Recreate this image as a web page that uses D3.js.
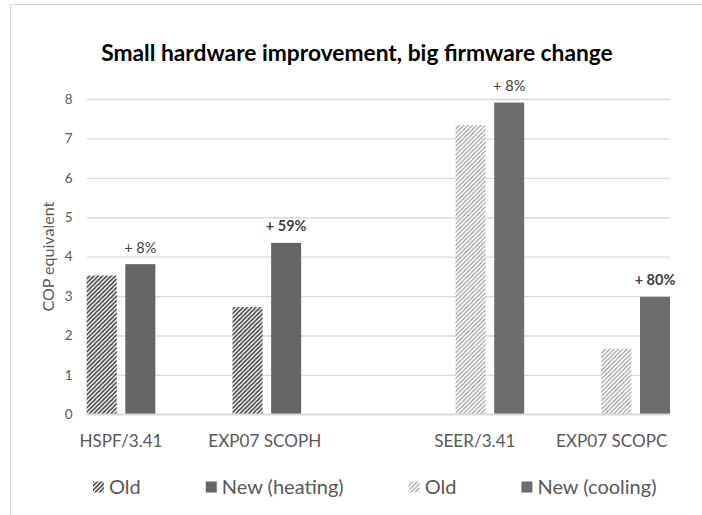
<!DOCTYPE html>
<html>
<head>
<meta charset="utf-8">
<script src="https://cdn.jsdelivr.net/npm/d3@7/dist/d3.min.js"></script>
<style>
  html, body { margin: 0; padding: 0; background: #fff; }
  svg { display: block; font-family: Lato, "Open Sans", sans-serif; }
</style>
</head>
<body>
<svg id="chart" width="702" height="515"></svg>
<script>
// ---- data ----
const title = "Small hardware improvement, big firmware change";
const yAxisTitle = "COP equivalent";
const categories = ["HSPF/3.41", "EXP07 SCOPH", "SEER/3.41", "EXP07 SCOPC"];
const seriesNames = ["Old", "New (heating)", "Old", "New (cooling)"];
const oldHeating = [3.52, 2.72, null, null];
const newHeating = [3.81, 4.35, null, null];
const oldCooling = [null, null, 7.34, 1.66];
const newCooling = [null, null, 7.91, 2.98];
const changeLabels = ["+ 8%", "+ 59%", "+ 8%", "+ 80%"];
const changeBold = [false, true, false, true];
const yTicks = [0, 1, 2, 3, 4, 5, 6, 7, 8];

// ---- layout ----
const svg = d3.select("#chart");
const plot = { left: 86.7, right: 670, top: 99, bottom: 414.3 };
const labelNudge = [0, -2, -15, -24];
const seriesStyle = ["url(#hatchDark)", "#656565", "url(#hatchLight)", "#6d6d6d"];
const series = [oldHeating, newHeating, oldCooling, newCooling];

// scale a text's font size so that its rendered width matches a target width
function fitWidth(sel, target) {
  const w = sel.node().getComputedTextLength();
  const fs = parseFloat(sel.attr("font-size"));
  if (w > 0) sel.attr("font-size", (fs * target / w).toFixed(2));
  return sel;
}

// patterns
const defs = svg.append("defs");
const pd = defs.append("pattern").attr("id", "hatchDark")
  .attr("patternUnits", "userSpaceOnUse").attr("width", 4.3).attr("height", 4.3);
pd.append("rect").attr("width", 4.3).attr("height", 4.3).attr("fill", "#fff");
pd.append("path").attr("d", "M-1,1.15 l2.15,-2.15 M0,4.3 l4.3,-4.3 M3.15,5.45 l2.15,-2.15")
  .attr("stroke", "#3a3a3a").attr("stroke-width", 1.5);
const pl = defs.append("pattern").attr("id", "hatchLight")
  .attr("patternUnits", "userSpaceOnUse").attr("width", 4.3).attr("height", 4.3);
pl.append("rect").attr("width", 4.3).attr("height", 4.3).attr("fill", "#fff");
pl.append("path").attr("d", "M-1,1.15 l2.15,-2.15 M0,4.3 l4.3,-4.3 M3.15,5.45 l2.15,-2.15")
  .attr("stroke", "#9a9a9a").attr("stroke-width", 1.1);

// border
svg.append("rect").attr("x", 10.5).attr("y", 4.5).attr("width", 720).attr("height", 540)
  .attr("fill", "#fff").attr("stroke", "#d9d9d9").attr("stroke-width", 1);

// scales
const y = d3.scaleLinear().domain([0, 8]).range([plot.bottom, plot.top]);
const x0 = d3.scaleBand().domain(categories).range([plot.left, plot.right]).paddingInner(0).paddingOuter(0);
const x1 = d3.scaleBand().domain(d3.range(4)).range([0, x0.bandwidth()]).paddingInner(0.223).paddingOuter(0);

// gridlines + y tick labels via axis
const yAxis = d3.axisLeft(y).tickValues(yTicks).tickSize(-(plot.right - plot.left)).tickPadding(14).tickFormat(d3.format("d"));
const gy = svg.append("g").attr("transform", `translate(${plot.left},0)`).call(yAxis);
gy.select(".domain").remove();
gy.selectAll(".tick line").attr("stroke", "#d9d9d9").attr("stroke-width", 1.3);
gy.selectAll(".tick text").attr("fill", "#595959").attr("font-size", 13.5).attr("font-family", "Lato");

// bars
categories.forEach((c, ci) => {
  series.forEach((s, si) => {
    const v = s[ci];
    if (v == null) return;
    svg.append("rect")
      .attr("x", x0(c) + x1(si))
      .attr("y", y(v))
      .attr("width", x1.bandwidth())
      .attr("height", y(0) - y(v))
      .attr("fill", seriesStyle[si]);
  });
});

// data labels on new bars
categories.forEach((c, ci) => {
  const si = newHeating[ci] != null ? 1 : 3;
  const v = series[si][ci];
  svg.append("text")
    .attr("x", x0(c) + x1(si) + x1.bandwidth() / 2)
    .attr("y", y(v) - 11.5)
    .attr("text-anchor", "middle")
    .attr("font-size", 14.5)
    .attr("font-weight", changeBold[ci] ? "bold" : "normal")
    .attr("fill", "#404040")
    .text(changeLabels[ci]);
});

// baseline
svg.append("line").attr("x1", plot.left).attr("x2", plot.right)
  .attr("y1", y(0)).attr("y2", y(0)).attr("stroke", "#d9d9d9").attr("stroke-width", 1.5);

// category labels
const catLabels = [];
categories.forEach((c, ci) => {
  const idx = series.map((s, si) => s[ci] != null ? si : -1).filter(i => i >= 0);
  const xs = idx.map(si => x0(c) + x1(si) + x1.bandwidth() / 2);
  const cx = d3.mean(xs) + labelNudge[ci];
  catLabels.push(svg.append("text").attr("x", cx).attr("y", 447)
    .attr("text-anchor", "middle").attr("font-size", 18).attr("fill", "#595959")
    .text(c));
});
fitWidth(catLabels[1], 113);
catLabels.forEach(t => t.attr("font-size", catLabels[1].attr("font-size")));

// y axis title
const yt = svg.append("text")
  .attr("transform", `translate(54,${(plot.top + plot.bottom) / 2}) rotate(-90)`)
  .attr("text-anchor", "middle").attr("font-size", 15.5).attr("fill", "#595959")
  .text(yAxisTitle);
fitWidth(yt, 110);

// title
const tt = svg.append("text").attr("x", 357).attr("y", 61)
  .attr("text-anchor", "middle").attr("font-size", 20.5).attr("font-weight", "bold")
  .attr("fill", "#000").text(title);
fitWidth(tt, 512);

// legend
const legend = svg.append("g");
const probe = legend.append("text").attr("font-size", 19).text(seriesNames[1]);
fitWidth(probe, 122);
const legendFs = probe.attr("font-size");
probe.remove();
let lx = 93;
seriesNames.forEach((n, i) => {
  const g = legend.append("g").attr("transform", `translate(${lx},0)`);
  g.append("rect").attr("x", 0).attr("y", 481.5).attr("width", 11).attr("height", 11)
    .attr("fill", seriesStyle[i]);
  const t = g.append("text").attr("x", 16).attr("y", 493.5).attr("font-size", legendFs)
    .attr("fill", "#595959").text(n);
  lx += 16 + t.node().getComputedTextLength() + 65;
});
</script>
</body>
</html>
